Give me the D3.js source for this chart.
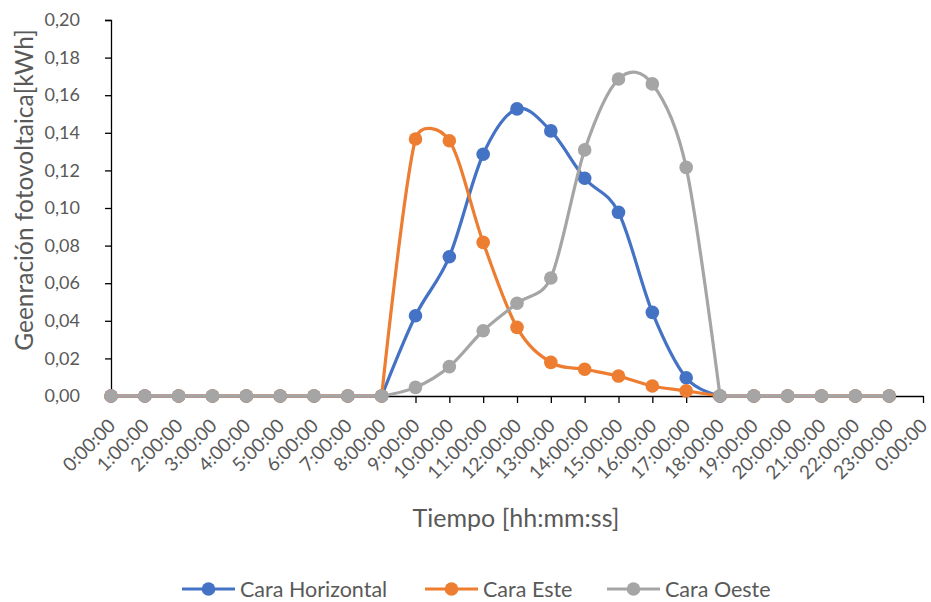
<!DOCTYPE html>
<html>
<head>
<meta charset="utf-8">
<script src="https://cdn.jsdelivr.net/npm/d3@7"></script>
<style>
  html, body { margin: 0; padding: 0; background: #fff; }
  svg { display: block; }
  text { font-family: Lato, "Liberation Sans", sans-serif; fill: #595959; }
</style>
</head>
<body>
<div id="chart"></div>
<script>
// ---------- data ----------
const categories = ["0:00:00","1:00:00","2:00:00","3:00:00","4:00:00","5:00:00","6:00:00","7:00:00",
  "8:00:00","9:00:00","10:00:00","11:00:00","12:00:00","13:00:00","14:00:00","15:00:00","16:00:00",
  "17:00:00","18:00:00","19:00:00","20:00:00","21:00:00","22:00:00","23:00:00","0:00:00"];
const seriesNames = ["Cara Horizontal", "Cara Este", "Cara Oeste"];
const caraHorizontal = [0,0,0,0,0,0,0,0,0,0.0427,0.0741,0.1286,0.1527,0.1410,0.1158,0.0977,0.0445,0.0097,0,0,0,0,0,0];
const caraEste       = [0,0,0,0,0,0,0,0,0,0.1367,0.1358,0.0817,0.0365,0.0179,0.0142,0.0106,0.0053,0.0027,0,0,0,0,0,0];
const caraOeste      = [0,0,0,0,0,0,0,0,0,0.0046,0.0156,0.0347,0.0493,0.0628,0.1309,0.1686,0.1660,0.1216,0,0,0,0,0,0];
const yTicks = [0,0.02,0.04,0.06,0.08,0.10,0.12,0.14,0.16,0.18,0.20];
const colors = ["#4472C4", "#ED7D31", "#A5A5A5"];
const xTitle = "Tiempo [hh:mm:ss]";
const yTitle = "Geenración fotovoltaica[kWh]";

// ---------- layout ----------
const W = 931, H = 602;
const FONT = "Lato, 'Liberation Sans', sans-serif";
const svg = d3.select("#chart").append("svg").attr("width", W).attr("height", H);

const x = d3.scalePoint().domain(d3.range(categories.length)).range([111, 923]);
const y = d3.scaleLinear().domain([0, 0.20]).range([396, 20]);
const fmt = v => d3.format(".2f")(v).replace(".", ",");

// y axis
const yAxis = svg.append("g").attr("transform", "translate(111,0)")
  .call(d3.axisLeft(y).tickValues(yTicks).tickFormat(fmt).tickSize(6).tickPadding(25));
yAxis.select(".domain").attr("stroke", "#000").attr("stroke-width", 1.3);
yAxis.selectAll(".tick line").attr("stroke", "#000").attr("stroke-width", 1.3);
yAxis.selectAll(".tick text").style("font-size", "18px").attr("fill", "#595959").style("font-family", FONT);

// x axis
const xAxis = svg.append("g").attr("transform", "translate(0,396)")
  .call(d3.axisBottom(x).tickFormat(i => categories[i]).tickSize(7).tickSizeOuter(0));
xAxis.select(".domain").attr("stroke", "#000").attr("stroke-width", 1.3);
xAxis.selectAll(".tick line").attr("stroke", "#000").attr("stroke-width", 1.3);
xAxis.selectAll(".tick text")
  .style("font-size", "19px").attr("fill", "#595959").style("font-family", FONT)
  .attr("text-anchor", "end")
  .attr("x", 0).attr("y", 0).attr("dy", 0)
  .attr("transform", "translate(5,31) rotate(-45)");

// titles
svg.append("text").attr("x", 516).attr("y", 527).attr("text-anchor", "middle")
  .style("font-size", "25px").text(xTitle);
svg.append("text").attr("transform", "translate(33,190) rotate(-90)").attr("text-anchor", "middle")
  .style("font-size", "24.5px").text(yTitle);

// Excel-like smoothed line (Bezier with limited Catmull-Rom tangents, pixel space)
function smoothPath(pts) {
  const p = d3.path();
  const n = pts.length;
  const dist = (a, b) => Math.hypot(b[0] - a[0], b[1] - a[1]);
  const flatAt = i => (i > 0 && pts[i - 1][1] === pts[i][1]) || (i < n - 1 && pts[i + 1][1] === pts[i][1]);
  p.moveTo(pts[0][0], pts[0][1]);
  for (let i = 0; i < n - 1; i++) {
    const P0 = pts[Math.max(0, i - 1)], P1 = pts[i], P2 = pts[i + 1], P3 = pts[Math.min(n - 1, i + 2)];
    const d12 = dist(P1, P2), d02 = dist(P0, P2), d13 = dist(P1, P3);
    let f1 = d02 > 0 ? Math.min(1 / 6, d12 / (2 * d02)) : 0;
    let f2 = d13 > 0 ? Math.min(1 / 6, d12 / (2 * d13)) : 0;
    if (flatAt(i)) f1 = 0;
    if (flatAt(i + 1)) f2 = 0;
    const c1 = [P1[0] + f1 * (P2[0] - P0[0]), P1[1] + f1 * (P2[1] - P0[1])];
    const c2 = [P2[0] - f2 * (P3[0] - P1[0]), P2[1] - f2 * (P3[1] - P1[1])];
    p.bezierCurveTo(c1[0], c1[1], c2[0], c2[1], P2[0], P2[1]);
  }
  return p.toString();
}

// series
const allSeries = [caraHorizontal, caraEste, caraOeste];
allSeries.forEach((vals, s) => {
  const g = svg.append("g");
  const pts = vals.map((d, i) => [x(i), y(d)]);
  g.append("path").attr("d", smoothPath(pts)).attr("fill", "none")
    .attr("stroke", colors[s]).attr("stroke-width", 3.2).attr("stroke-linejoin", "round").attr("stroke-linecap", "round");
  g.selectAll("circle").data(vals).join("circle")
    .attr("cx", (d, i) => x(i)).attr("cy", d => y(d)).attr("r", 6.8)
    .attr("fill", colors[s]);
});

// legend
const legendX = [182, 425, 607];
const legend = svg.append("g");
seriesNames.forEach((name, s) => {
  const lx = legendX[s], ly = 589;
  legend.append("line").attr("x1", lx).attr("x2", lx + 53).attr("y1", ly).attr("y2", ly)
    .attr("stroke", colors[s]).attr("stroke-width", 3.2);
  legend.append("circle").attr("cx", lx + 26.5).attr("cy", ly).attr("r", 6.8).attr("fill", colors[s]);
  legend.append("text").attr("x", lx + 58).attr("y", ly).attr("dy", "0.35em")
    .style("font-size", "21.5px").text(name);
});
</script>
</body>
</html>
